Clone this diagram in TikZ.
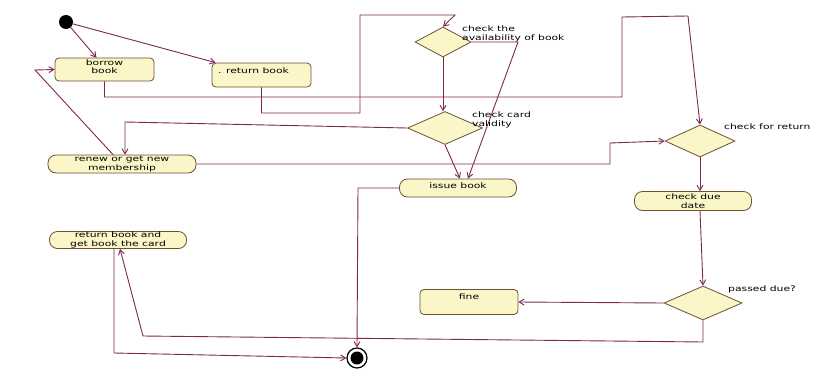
\documentclass[tikz,border=0pt]{standalone}
\usepackage{fontspec}
\setmainfont{DejaVu Sans}[FakeStretch=1.42]
\usetikzlibrary{shapes.geometric,arrows.meta,calc}
\definecolor{linec}{RGB}{125,40,80}
\definecolor{boxfill}{RGB}{250,246,200}
\definecolor{boxline}{RGB}{110,80,50}
\begin{document}
\begin{tikzpicture}[x=1pt,y=-1pt,
  font=\fontsize{7.6}{8.6}\selectfont,
  conn/.style={draw=linec,line width=0.9pt},
  arr/.style={conn,-{Straight Barb[length=5pt,width=6pt]}},
  actbox/.style={draw=boxline,fill=boxfill,line width=0.8pt,rounded corners=4pt,inner sep=1pt,align=center},
  stadium/.style={draw=boxline,fill=boxfill,line width=0.8pt,rounded corners=8pt,inner sep=0.5pt,align=center},
  decis/.style={diamond,draw=boxline,fill=boxfill,line width=0.8pt,inner sep=0pt},
  lbl/.style={anchor=north west,inner sep=0pt,align=left}]
\useasboundingbox (0,0) rectangle (817,370);
% nodes
\node[circle,fill=black,minimum size=14pt,inner sep=0pt] (start) at (66,22) {};
\node[actbox,minimum width=99pt,minimum height=23pt,text depth=6pt] (borrow) at (104.5,69.5) {borrow\\book};
\node[actbox,minimum width=99pt,minimum height=24pt,text depth=9pt] (retbook) at (261.5,75) {. return book\hspace{16pt}};
\node[decis,minimum width=56pt,minimum height=30pt] (avail) at (443,42) {};
\node[decis,minimum width=75pt,minimum height=33pt] (card) at (445,128) {};
\node[decis,minimum width=70pt,minimum height=32pt] (ret) at (700,141) {};
\node[decis,minimum width=78pt,minimum height=34pt] (passed) at (703,303) {};
\node[stadium,minimum width=148pt,minimum height=18pt] (renew) at (122,164) {renew or get new\\membership};
\node[stadium,minimum width=117pt,minimum height=18pt,text depth=4pt] (issue) at (458,188) {issue book};
\node[stadium,minimum width=117pt,minimum height=19pt] (due) at (693,201) {check due\\date};
\node[stadium,minimum width=137pt,minimum height=17pt] (retcard) at (118,240) {return book and\\get book the card};
\node[actbox,minimum width=98pt,minimum height=25pt,text depth=10pt] (fine) at (469,302) {fine};
\node[circle,draw=black,line width=1.2pt,minimum size=20pt,inner sep=0pt] (final) at (357,358) {};
\fill[black] (final.center) circle (6.5pt);
% labels
\node[lbl] (lavail) at (462,26) {check the\\availability of book};
\node[lbl] (lcard) at (472,112) {check card\\validity};
\node[lbl] (lret) at (724,124) {check for return};
\node[lbl] (lpassed) at (728,286) {passed due?};
% connectors
\draw[arr] (start) -- ([xshift=-8pt]borrow.north);
\draw[arr] (start) -- ([xshift=-46pt]retbook.north);
\draw[arr] (borrow.south) |- (622,97) -- (622,17) -- (688,16) -- (ret.north);
\draw[arr] (retbook.south) |- (360,113) -- (360,15) -- (455,15) -- (avail.north);
\draw[arr] (avail.south) -- (avail.south |- card.north);
\draw[arr] (avail.east) -- (518,42) -- ([xshift=10pt]issue.north);
\draw[arr] (card.south) -- ([xshift=2pt]issue.north);
\draw[arr] (card.west) -- (125,122) -- ([xshift=3pt]renew.north);
\draw[arr] (renew.east) -- (610,164) -- (610,143) -- (ret.west);
\draw[arr] ([xshift=-9pt]renew.north) -- (35,70) -- (borrow.west);
\draw[arr] (ret.south) -- (ret.south |- due.north);
\draw[arr] (ret.south |- due.south) -- (passed.north);
\draw[arr] (passed.west) -- (fine.east);
\draw[arr] (passed.south) -- (703,342) -- (143,336) -- ([xshift=2pt]retcard.south);
\draw[arr] ([xshift=-4pt]retcard.south) -- (114,353) -- (final.west);
\draw[arr] (issue.west) -- (358,188) -- (final.north);
\end{tikzpicture}
\end{document}
